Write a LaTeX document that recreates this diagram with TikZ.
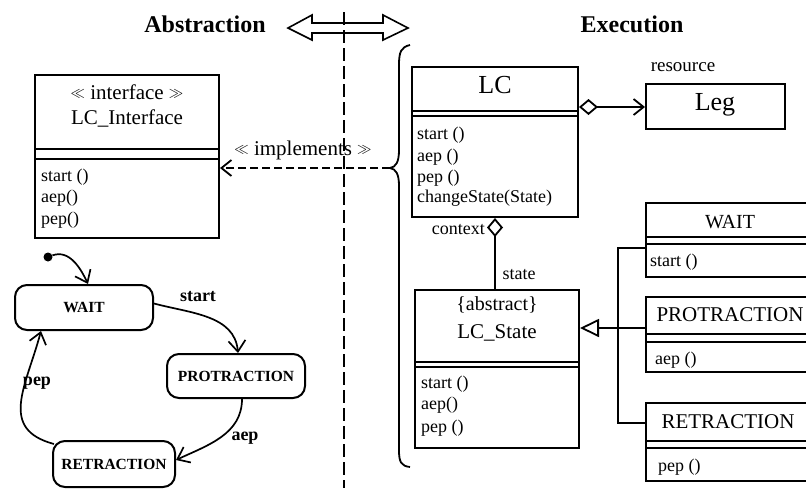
\documentclass[tikz,border=0pt]{standalone}
\usepackage{fontspec}
\setmainfont{Liberation Serif}
\usetikzlibrary{arrows.meta,positioning,calc}
\newcommand{\stlt}{{\fontsize{15}{17}\selectfont\raisebox{1.5pt}{\(\ll\)}}}
\newcommand{\stgt}{{\fontsize{15}{17}\selectfont\raisebox{1.5pt}{\(\gg\)}}}

\begin{document}
\begin{tikzpicture}[
  x=1pt, y=-1pt,
  cls/.style={draw, line width=2pt, inner sep=0pt},
  cname/.style={font=\fontsize{21}{24}\selectfont, inner sep=0pt},
  bigname/.style={font=\fontsize{26}{30}\selectfont, inner sep=0pt},
  meth/.style={font=\fontsize{18}{20}\selectfont, anchor=west, inner sep=0pt},
  note/.style={font=\fontsize{18}{20}\selectfont, inner sep=0pt},
  head/.style={font=\bfseries\fontsize{24}{28}\selectfont, inner sep=0pt},
  state/.style={draw, rounded corners=12pt, line width=2pt, inner sep=0pt,
    font=\bfseries\fontsize{15.5}{18}\selectfont},
  trans/.style={-{Straight Barb[length=11pt, width=17pt, line width=1.7pt]}, line width=1.7pt},
  tlabel/.style={font=\bfseries\fontsize{18}{20}\selectfont, inner sep=0pt},
  link/.style={line width=1.8pt},
  hollow/.style={{Diamond[open, length=19pt, width=16pt, line width=1.8pt]}-},
  barb/.style={-{Straight Barb[length=10pt, width=16pt, line width=1.8pt]}}
]
\useasboundingbox (0,0) rectangle (806,488);
\clip (0,0) rectangle (806,488);
\fill[white] (0,0) rectangle (806,488);

% headings and the swap arrow
\node[head] (absTitle) at (205,24) {Abstraction};
\node[head] (exeTitle) at (632,24) {Execution};
\draw[line width=1.6pt, fill=white] (288,28) -- (312,15) -- (312,23) -- (383,23) -- (383,15)
  -- (408,28) -- (383,40) -- (383,33) -- (312,33) -- (312,40) -- cycle;
\draw[line width=1.8pt, dash pattern=on 13pt off 5pt] (344,12) -- (344,488);

% interface class
\node[cls, minimum width=184pt, minimum height=163pt] (iface) at (127,156.5) {};
\node[cname] (ifaceStereo) at (127,92) {\stlt{} interface \stgt};
\node[cname] (ifaceName) at (127,118) {LC\_Interface};
\node[meth] (ifaceM1) at (41,177) {start ()};
\node[meth] (ifaceM2) at (41,198) {aep()};
\node[meth] (ifaceM3) at (41,220) {pep()};

% context and resource
\node[cls, minimum width=166pt, minimum height=150pt] (lc) at (495,142) {};
\node[bigname] (lcName) at (495,85) {LC};
\node[meth] (lcM1) at (417,135) {start ()};
\node[meth] (lcM2) at (417,157) {aep ()};
\node[meth] (lcM3) at (417,178) {pep ()};
\node[meth] (lcM4) at (417,198) {changeState(State)};

\node[cls, minimum width=139pt, minimum height=45pt] (leg) at (715.5,106.5) {};
\node[bigname] (legName) at (715,105) {Leg};
\node[note, font=\fontsize{19}{21}\selectfont] (resLabel) at (683,67) {resource};

% abstract state
\node[cls, minimum width=164pt, minimum height=158pt] (lcstate) at (497,369) {};
\node[cname, font=\fontsize{20}{24}\selectfont] (stAbs) at (497,305) {\{abstract\}};
\node[cname] (stName) at (497,333) {LC\_State};
\node[meth] (stM1) at (421,384) {start ()};
\node[meth] (stM2) at (421,405) {aep()};
\node[meth] (stM3) at (421,428) {pep ()};

% concrete states
\node[cls, minimum width=168pt, minimum height=74pt] (wait) at (730,240) {};
\node[cname, font=\fontsize{20}{24}\selectfont] (waitName) at (730,222) {WAIT};
\node[meth] (waitM1) at (650,262) {start ()};
\node[cls, minimum width=168pt, minimum height=75pt] (prot) at (730,334.5) {};
\node[cname] (protName) at (730,315) {PROTRACTION};
\node[meth] (protM1) at (655,360) {aep ()};
\node[cls, minimum width=168pt, minimum height=78pt] (retr) at (730,442) {};
\node[cname] (retrName) at (728,422) {RETRACTION};
\node[meth] (retrM1) at (658,467) {pep ()};

% compartment separators
\foreach \n/\a/\b in {iface/75/85, lc/45/50, lcstate/73/78, wait/35/42, prot/38/46, retr/39/46} {
  \draw[line width=2pt] ([yshift=-\a pt]\n.north west) -- ([yshift=-\a pt]\n.north east);
  \draw[line width=2pt] ([yshift=-\b pt]\n.north west) -- ([yshift=-\b pt]\n.north east);
}

% associations
\draw[link, {Diamond[open, length=19pt, width=16pt, line width=1.8pt]}-{Straight Barb[length=10pt, width=16pt, line width=1.8pt]}]
  ([yshift=35pt]lc.east) -- ([yshift=35pt]lc.east -| leg.west);
\draw[link, hollow] (lc.south) -- (lc.south |- lcstate.north);
\node[note, anchor=east] (ctxLabel) at (485,230) {context};
\node[note] (stateLabel) at (519,275) {state};

% generalisation
\coordinate (fork) at (618,328);
\draw[link, -{Triangle[open, length=19pt, width=18pt, line width=1.8pt]}] (fork) -- (fork -| lcstate.east);
\draw[link] ([yshift=-8pt]wait.west) -| (fork) |- ([yshift=19pt]retr.west);
\draw[link] (fork) -- (fork -| prot.west);

% realisation through the brace
\draw[line width=1.8pt] (410,45) .. controls (401,47) and (399,52) .. (399,65) -- (399,150)
  .. controls (399,162) and (396,167) .. (390,168) .. controls (396,169) and (399,174) .. (399,186)
  -- (399,450) .. controls (399,462) and (401,466) .. (410,467);
\coordinate (btip) at (390,168);
\draw[link, barb, dash pattern=on 8pt off 4pt] (btip) -- (btip -| iface.east);
\node[cname] (implLabel) at (303,150) {\stlt{} implements \stgt};

% state machine
\node[state, minimum width=138pt, minimum height=45pt] (stWait) at (84,307.5) {WAIT};
\node[state, minimum width=138pt, minimum height=44pt] (stProt) at (236,376) {PROTRACTION};
\node[state, minimum width=122pt, minimum height=46pt] (stRetr) at (114,464) {RETRACTION};
\node[circle, fill, inner sep=0pt, minimum size=9pt] (init) at (48,257) {};
\draw[trans] (init) to[out=20, in=115] ([xshift=4pt]stWait.north);
\draw[trans] ([yshift=4pt]stWait.east) to[out=-15, in=95] ([xshift=2pt]stProt.north);
\draw[trans] ([xshift=6pt]stProt.south) to[out=-90, in=25] ([yshift=4pt]stRetr.east);
\draw[trans] ([shift={(2pt,-4pt)}]stRetr.north west) to[out=165, in=-105, looseness=1.3] ([xshift=27pt]stWait.south west);
\node[tlabel] (lblStart) at (198,297) {start};
\node[tlabel] (lblAep) at (245,438) {aep};
\node[tlabel] (lblPep) at (37,383) {pep};
\end{tikzpicture}
\end{document}
